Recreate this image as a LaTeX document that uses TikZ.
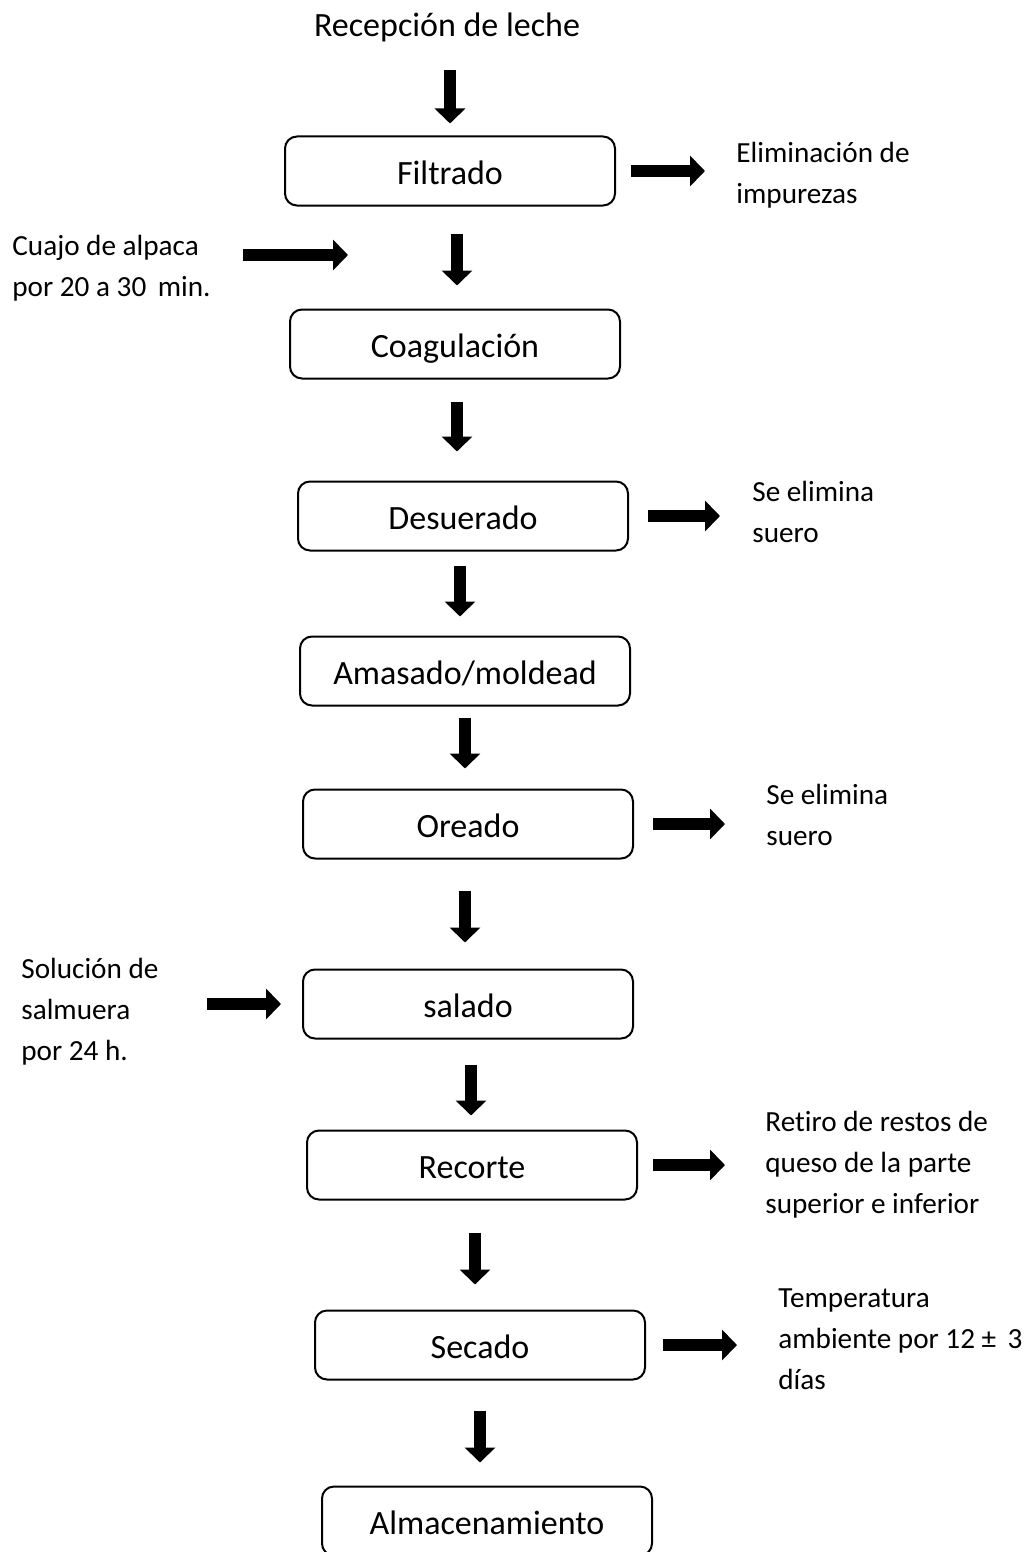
\documentclass[tikz,border=0pt]{standalone}
\usepackage{fontspec}
\setmainfont[Ligatures=NoCommon]{Carlito}
\usepackage{tikz}
\usetikzlibrary{arrows.meta}

\tikzset{
  stage/.style={draw, line width=1pt, rounded corners=6pt, minimum width=165pt,
    minimum height=34.5pt, inner sep=0pt, text height=14pt, text depth=0.5pt,
    font=\fontsize{17}{20}\selectfont},
  note/.style={anchor=west, align=left, inner sep=0pt, font=\fontsize{14.6}{20.5}\selectfont},
  flow/.style={line width=6pt, -{Triangle[length=7.5pt,width=15pt]}}
}

\begin{document}
\begin{tikzpicture}[x=0.5pt,y=-0.5pt]
    \useasboundingbox (0,0) rectangle (1036,1552);
    % main line
    \node[inner sep=0pt, font=\fontsize{17}{20}\selectfont] (recep) at (447,27) {Recepción de leche};
    \node[stage] (filt) at (450,171) {Filtrado};
    \node[stage] (coag) at (455,344) {Coagulación};
    \node[stage] (desu) at (463,516) {Desuerado};
    \node[stage] (amas) at (465,671) {Amasado/moldead};
    \node[stage] (orea) at (468,824) {Oreado};
    \node[stage] (sala) at (468,1004) {salado};
    \node[stage] (reco) at (472,1165) {Recorte};
    \node[stage] (seca) at (480,1345) {Secado};
    \node[stage] (alma) at (487,1521) {Almacenamiento};
    % side notes
    \node[note] (elim) at (736,175) {Eliminación de\\impurezas};
    \node[note] (suero1) at (752,512) {Se elimina\\suero};
    \node[note] (suero2) at (766,815) {Se elimina\\suero};
    \node[note] (resto) at (765,1165) {Retiro de restos de\\queso de la parte\\superior e inferior};
    \node[note] (temp) at (778,1339) {Temperatura\\ambiente por 12 ±\, 3\\días};
    \node[note] (cuajo) at (12,268) {Cuajo de alpaca\\por 20 a 30\, min.};
    \node[note] (salm) at (21,1012) {Solución de\\salmuera\\por 24 h.};
    \coordinate (cuajoin) at (348,255);
    % down arrows
    \draw[flow, shorten <=14pt, shorten >=6pt] (recep.south -| filt.north) -- (filt.north);
    \draw[flow, shorten <=13.5pt, shorten >=11.5pt] (filt.south -| 457,0) -- (coag.north -| 457,0);
    \draw[flow, shorten <=11pt, shorten >=14.5pt] (coag.south -| 457,0) -- (desu.north -| 457,0);
    \draw[flow, shorten <=7pt, shorten >=9.5pt] (desu.south -| 460,0) -- (amas.north -| 460,0);
    \draw[flow, shorten <=5.5pt, shorten >=10pt] (amas.south) -- (orea.north -| amas.south);
    \draw[flow, shorten <=15.5pt, shorten >=13pt] (orea.south -| amas.south) -- (sala.north -| amas.south);
    \draw[flow, shorten <=12.5pt, shorten >=7pt] (sala.south -| 471,0) -- (reco.north -| 471,0);
    \draw[flow, shorten <=16pt, shorten >=12.5pt] (reco.south -| 475,0) -- (seca.north -| 475,0);
    \draw[flow, shorten <=15pt, shorten >=11.5pt] (seca.south) -- (alma.north -| seca.south);
    % side arrows
    \draw[flow, shorten <=7.5pt, shorten >=15.5pt] (filt.east) -- (filt.east -| elim.west);
    \draw[flow, shorten <=9.5pt, shorten >=16pt] (desu.east) -- (desu.east -| suero1.west);
    \draw[flow, shorten <=9.5pt, shorten >=20.5pt] (orea.east) -- (orea.east -| suero2.west);
    \draw[flow, shorten <=7.5pt, shorten >=20pt] (reco.east) -- (reco.east -| resto.west);
    \draw[flow, shorten <=8.5pt, shorten >=20.5pt] (seca.east) -- (seca.east -| temp.west);
    \draw[flow, shorten <=16pt] (cuajo.east |- cuajoin) -- (cuajoin);
    \draw[flow, shorten <=24pt, shorten >=10.5pt] (salm.east |- sala.west) -- (sala.west);
\end{tikzpicture}
\end{document}
